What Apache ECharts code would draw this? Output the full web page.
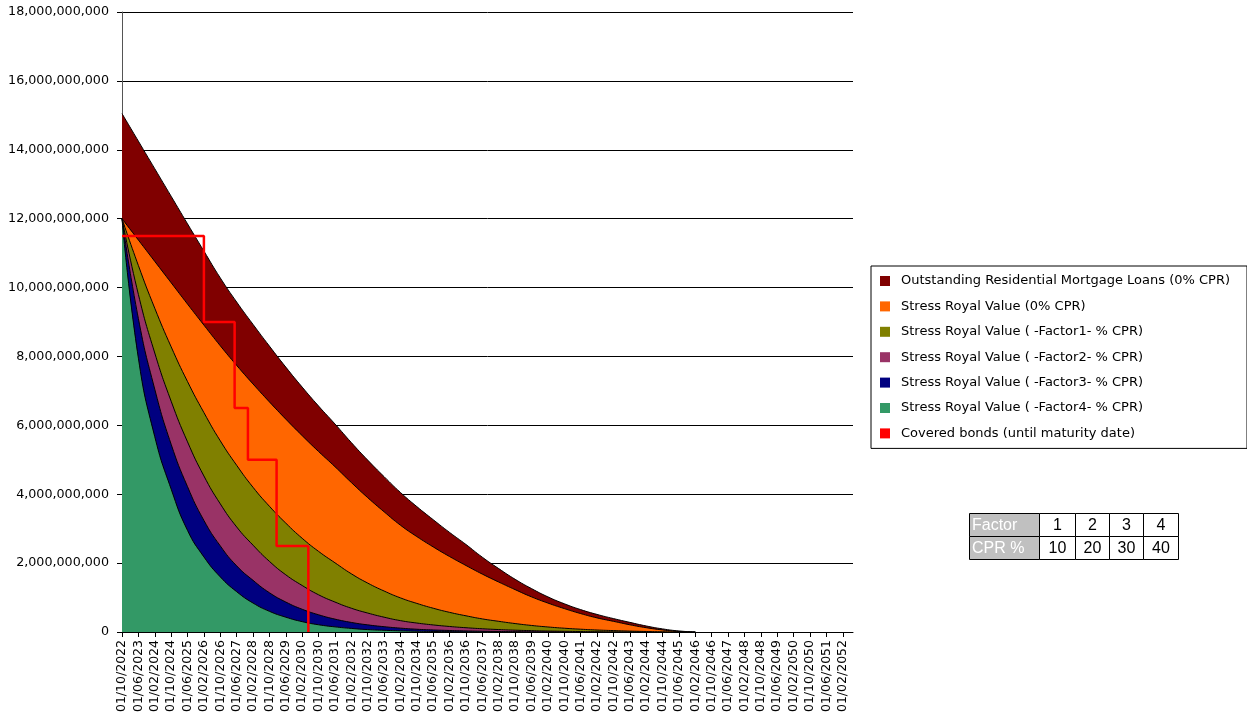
<!DOCTYPE html>
<html>
<head>
<meta charset="utf-8">
<script src="https://cdn.jsdelivr.net/npm/echarts@6/dist/echarts.min.js"></script>
<style>
  html, body { margin: 0; padding: 0; background: #fff; }
  #chart { width: 1247px; height: 716px; }
</style>
</head>
<body>
<div id="chart"></div>
<script>
// X tick labels (one every 8 months, starting 01/10/2022)
const tickLabels = ['01/10/2022','01/06/2023','01/02/2024','01/10/2024','01/06/2025','01/02/2026','01/10/2026','01/06/2027','01/02/2028','01/10/2028','01/06/2029','01/02/2030','01/10/2030','01/06/2031','01/02/2032','01/10/2032','01/06/2033','01/02/2034','01/10/2034','01/06/2035','01/02/2036','01/10/2036','01/06/2037','01/02/2038','01/10/2038','01/06/2039','01/02/2040','01/10/2040','01/06/2041','01/02/2042','01/10/2042','01/06/2043','01/02/2044','01/10/2044','01/06/2045','01/02/2046','01/10/2046','01/06/2047','01/02/2048','01/10/2048','01/06/2049','01/02/2050','01/10/2050','01/06/2051','01/02/2052'];
const monthsPerTick = 8;

// Series values in billions, read at each tick label date (every 8 months from 01/10/2022)
const outstanding0 = [15.05,14.25,13.45,12.65,11.85,11.06,10.28,9.58,8.93,8.30,7.69,7.11,6.56,6.04,5.50,4.99,4.51,4.05,3.64,3.26,2.89,2.54,2.17,1.84,1.53,1.26,1.02,0.82,0.65,0.51,0.39,0.28,0.175,0.09,0.03,0];
const stress0 = [12.00,11.38,10.76,10.14,9.52,8.91,8.31,7.74,7.20,6.68,6.18,5.70,5.24,4.80,4.34,3.90,3.49,3.10,2.77,2.47,2.19,1.93,1.68,1.45,1.23,1.02,0.84,0.68,0.535,0.41,0.31,0.21,0.125,0.06,0.015,0];
const stressF1 = [12.00,10.64,9.40,8.28,7.27,6.37,5.55,4.84,4.20,3.65,3.16,2.72,2.34,2.01,1.69,1.42,1.19,0.99,0.83,0.69,0.57,0.47,0.38,0.31,0.245,0.19,0.146,0.11,0.081,0.058,0.041,0.026,0.015,0.007,0.002,0];
const stressF2 = [12.00,9.80,8.10,6.70,5.52,4.53,3.72,3.05,2.52,2.05,1.66,1.35,1.08,0.87,0.69,0.55,0.43,0.33,0.26,0.205,0.16,0.124,0.094,0.071,0.053,0.039,0.028,0.02,0.013,0.008,0.005,0.002,0];
const stressF3 = [12.00,9.10,7.05,5.45,4.22,3.24,2.50,1.92,1.50,1.14,0.87,0.66,0.50,0.374,0.278,0.207,0.154,0.112,0.080,0.059,0.044,0.031,0.022,0.015,0.010,0.006,0.003,0];
const stressF4 = [12.00,7.95,5.67,4.15,2.95,2.18,1.60,1.17,0.84,0.60,0.43,0.30,0.21,0.149,0.104,0.070,0.049,0.034,0.022,0.015,0.010,0.006,0.003,0];

// Covered bonds outstanding (billions): months after 01/10/2022 where the level changes
const bondMonths = [0, 40, 55, 61.5, 75.5, 91];
const bondValues = [11.5, 9.0, 6.5, 5.0, 2.5, 0];

const seriesNames = [
  'Outstanding Residential Mortgage Loans (0% CPR)',
  'Stress Royal Value (0% CPR)',
  'Stress Royal Value ( -Factor1- % CPR)',
  'Stress Royal Value ( -Factor2- % CPR)',
  'Stress Royal Value ( -Factor3- % CPR)',
  'Stress Royal Value ( -Factor4- % CPR)',
  'Covered bonds (until maturity date)'
];
const seriesColors = ['#800000','#FF6600','#808000','#993366','#000080','#339966','#FF0000'];

// Table
const tableFactors = [1, 2, 3, 4];
const tableCpr = [10, 20, 30, 40];

const areaData = [outstanding0, stress0, stressF1, stressF2, stressF3, stressF4];

function fmtThousands(n) {
  return String(Math.round(n)).replace(/\B(?=(\d{3})+(?!\d))/g, ',');
}

const series = areaData.map((arr, i) => ({
  name: seriesNames[i],
  type: 'line',
  data: arr.map((v, k) => [k * monthsPerTick, v]),
  showSymbol: false,
  smooth: 0.5,
  lineStyle: { color: '#000', width: 1 },
  itemStyle: { color: seriesColors[i] },
  areaStyle: { color: seriesColors[i], opacity: 1 },
  z: 2 + i
}));
series.push({
  name: seriesNames[6],
  type: 'line',
  step: 'end',
  data: bondMonths.map((m, i) => [m, bondValues[i]]),
  showSymbol: false,
  lineStyle: { color: seriesColors[6], width: 2.5 },
  itemStyle: { color: seriesColors[6] },
  z: 20
});

// table graphics
const colX = [969, 1039, 1075, 1109, 1143, 1178];
const rowY = [513, 536, 559];
const tableRows = [['Factor'].concat(tableFactors.map(String)), ['CPR %'].concat(tableCpr.map(String))];
const graphic = [];
tableRows.forEach((row, r) => {
  row.forEach((txt, c) => {
    graphic.push({
      type: 'rect',
      shape: { x: colX[c] + 0.5, y: rowY[r] + 0.5, width: colX[c + 1] - colX[c], height: rowY[r + 1] - rowY[r] },
      style: { fill: c === 0 ? '#C0C0C0' : '#FFFFFF', stroke: '#000', lineWidth: 1 },
      z: 100
    });
    graphic.push({
      type: 'text',
      x: c === 0 ? colX[0] + 3 : (colX[c] + colX[c + 1]) / 2 + 0.5,
      y: (rowY[r] + rowY[r + 1]) / 2 + 1,
      style: {
        text: txt,
        fill: c === 0 ? '#FFFFFF' : '#000000',
        font: '16px "Liberation Sans", Arial, sans-serif',
        textAlign: c === 0 ? 'left' : 'center',
        textVerticalAlign: 'middle',
        align: c === 0 ? 'left' : 'center',
        verticalAlign: 'middle'
      },
      z: 101
    });
  });
});

const chart = echarts.init(document.getElementById('chart'), null, { renderer: 'canvas' });
chart.setOption({
  animation: false,
  backgroundColor: '#fff',
  grid: { left: 122, right: 394, top: 12, bottom: 84, containLabel: false },
  xAxis: {
    type: 'value',
    min: 0,
    max: 357,
    interval: monthsPerTick,
    axisLine: { show: true, onZero: false, lineStyle: { color: '#000', width: 1 } },
    axisTick: { show: true, length: 5, lineStyle: { color: '#000' } },
    splitLine: { show: false },
    axisLabel: {
      rotate: 90,
      margin: 8,
      color: '#000',
      fontFamily: 'DejaVu Sans',
      fontSize: 12.5,
      showMaxLabel: false,
      formatter: function (v) {
        const i = Math.round(v / monthsPerTick);
        return (Math.abs(v - i * monthsPerTick) < 1e-6 && tickLabels[i]) ? tickLabels[i] : '';
      }
    }
  },
  yAxis: {
    type: 'value',
    min: 0,
    max: 18,
    interval: 2,
    axisLine: { show: true, lineStyle: { color: '#555', width: 1 } },
    axisTick: { show: true, length: 5, lineStyle: { color: '#000' } },
    splitLine: { show: true, lineStyle: { color: '#000', width: 1 } },
    axisLabel: {
      margin: 13,
      color: '#000',
      fontFamily: 'DejaVu Sans',
      fontSize: 12.7,
      formatter: function (v) { return fmtThousands(v * 1e9); }
    }
  },
  legend: {
    orient: 'vertical',
    left: 871,
    top: 266,
    padding: [7.5, 17, 7.5, 9],
    itemGap: 10.4,
    itemWidth: 10,
    itemHeight: 10,
    icon: 'rect',
    borderColor: '#000',
    borderWidth: 1,
    backgroundColor: '#fff',
    itemStyle: { borderWidth: 0 },
    textStyle: { fontFamily: 'DejaVu Sans', fontSize: 13, color: '#000', lineHeight: 15, padding: [0, 0, 0, 6] },
    data: seriesNames.map((n, i) => ({ name: n, itemStyle: { color: seriesColors[i], borderWidth: 0 } }))
  },
  graphic: graphic,
  series: series
});
</script>
</body>
</html>
